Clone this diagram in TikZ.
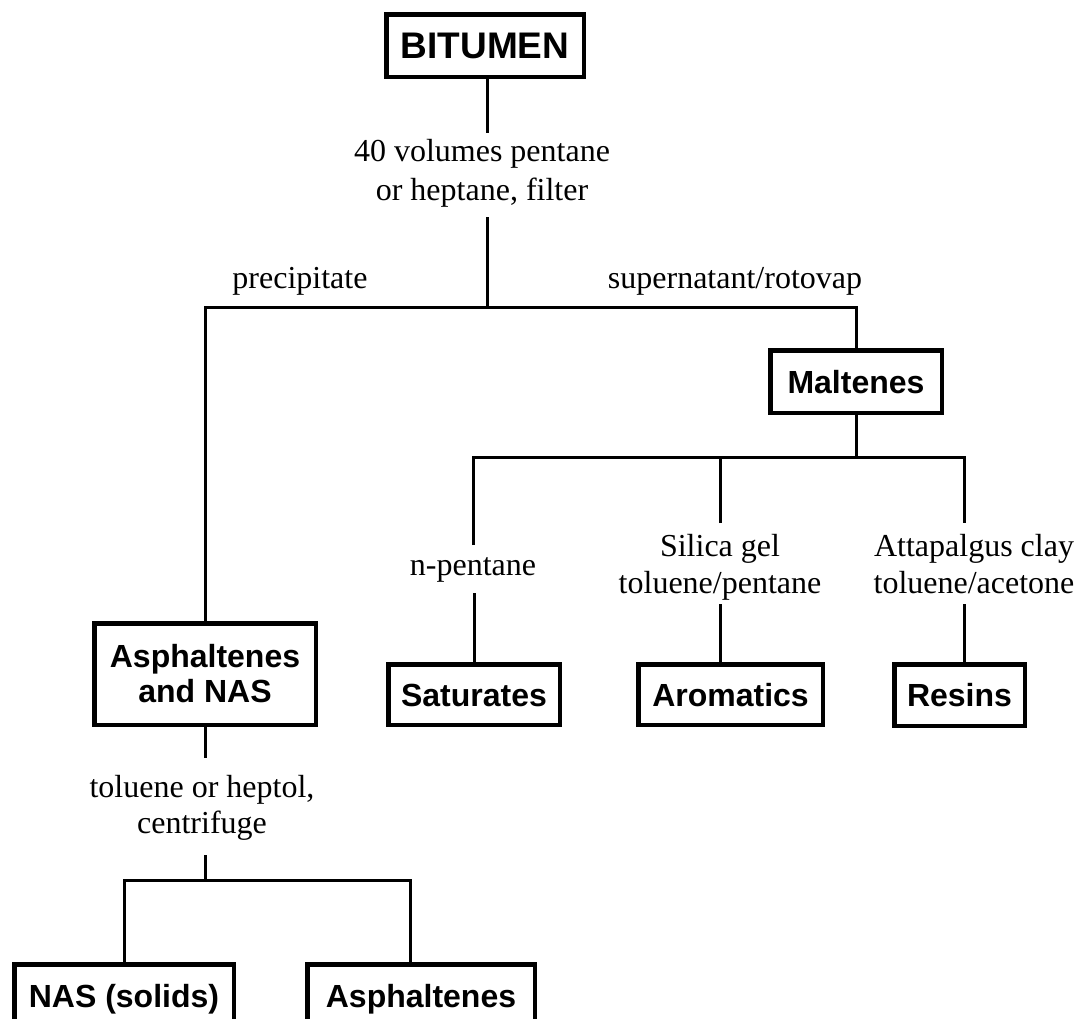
\documentclass[tikz,border=0pt]{standalone}
\usepackage{fontspec}
\setmainfont{Liberation Serif}
\setsansfont{Liberation Sans}
\begin{document}
\begin{tikzpicture}[x=1pt,y=-1pt,
  boxbase/.style={draw, line width=4.5pt, inner sep=0pt,
    font=\sffamily\bfseries\fontsize{32}{35}\selectfont},
  box/.style={boxbase, text height=23pt, text depth=0pt},
  lbl/.style={inner sep=0pt, font=\fontsize{32}{37}\selectfont, align=center},
  conn/.style={line width=3pt}]
\useasboundingbox (0,0) rectangle (1081,1018);
\clip (0,0) rectangle (1081,1018);

% fraction boxes
\node[box, minimum width=197.5pt, minimum height=62.5pt,
  font=\sffamily\bfseries\fontsize{37}{40}\selectfont, text height=26.5pt] (bit) at (485,45.5) {BITUMEN};
\node[box, minimum width=171.5pt, minimum height=62.5pt] (malt) at (856,381.5) {Maltenes};
\node[box, minimum width=171.5pt, minimum height=60.5pt] (sat) at (474,694.5) {Saturates};
\node[box, minimum width=184.5pt, minimum height=60.5pt] (aro) at (730.5,694.5) {Aromatics};
\node[box, minimum width=130.5pt, minimum height=61.5pt] (res) at (959.5,695) {Resins};
\node[boxbase, align=center, minimum width=221.5pt, minimum height=101.5pt] (asna) at (205,674) {Asphaltenes\\and NAS};
\node[box, minimum width=219.5pt, minimum height=63.5pt] (nas) at (124,996) {NAS (solids)};
\node[box, minimum width=227.5pt, minimum height=63.5pt] (asp) at (421,996) {Asphaltenes};

% procedure labels
\node[lbl, anchor=north, font=\fontsize{32}{39}\selectfont] (filt) at (482,139) {40 volumes pentane\\or heptane, filter};
\node[lbl, anchor=base] (prec) at (300,288) {precipitate};
\node[lbl, anchor=base] (sup) at (735,288) {supernatant/rotovap};
\node[lbl, anchor=base] (npen) at (473,575) {n-pentane};
\node[lbl, anchor=north] (sil) at (720,534) {Silica gel\\toluene/pentane};
\node[lbl, anchor=north] (att) at (974,534) {Attapalgus clay\\toluene/acetone};
\node[lbl, anchor=north, font=\fontsize{32}{36}\selectfont] (cent) at (202,775) {toluene or heptol,\\centrifuge};

% junction points of the tree
\coordinate (a0) at (487,133);
\coordinate (a1) at (487,217);
\coordinate (a2) at (487,307);
\coordinate (b0) at (856,457);
\coordinate (b1) at (473,545);
\coordinate (b2) at (720,523);
\coordinate (b3) at (964,523);
\coordinate (c1) at (474,593);
\coordinate (c2) at (720,604);
\coordinate (c3) at (964,604);
\coordinate (d0) at (205,758);
\coordinate (d1) at (205,855);
\coordinate (d2) at (205,880);
\coordinate (d3) at (410,964);

% connectors
\draw[conn] (bit.south -| a0) -- (a0);
\draw[conn] (a1) -- (a2);
\draw[conn] (asna.north) |- (a2) -| (malt.north);
\draw[conn] (malt.south) -- (b0);
\draw[conn] (b1) |- (b0) -| (b3);
\draw[conn] (b2) -- (b2 |- b0);
\draw[conn] (c1) -- (sat.north);
\draw[conn] (c2) -- (c2 |- aro.north);
\draw[conn] (c3) -- (c3 |- res.north);
\draw[conn] (asna.south) -- (d0);
\draw[conn] (d1) -- (d2);
\draw[conn] (nas.north) |- (d2) -| (d3);
\end{tikzpicture}
\end{document}
